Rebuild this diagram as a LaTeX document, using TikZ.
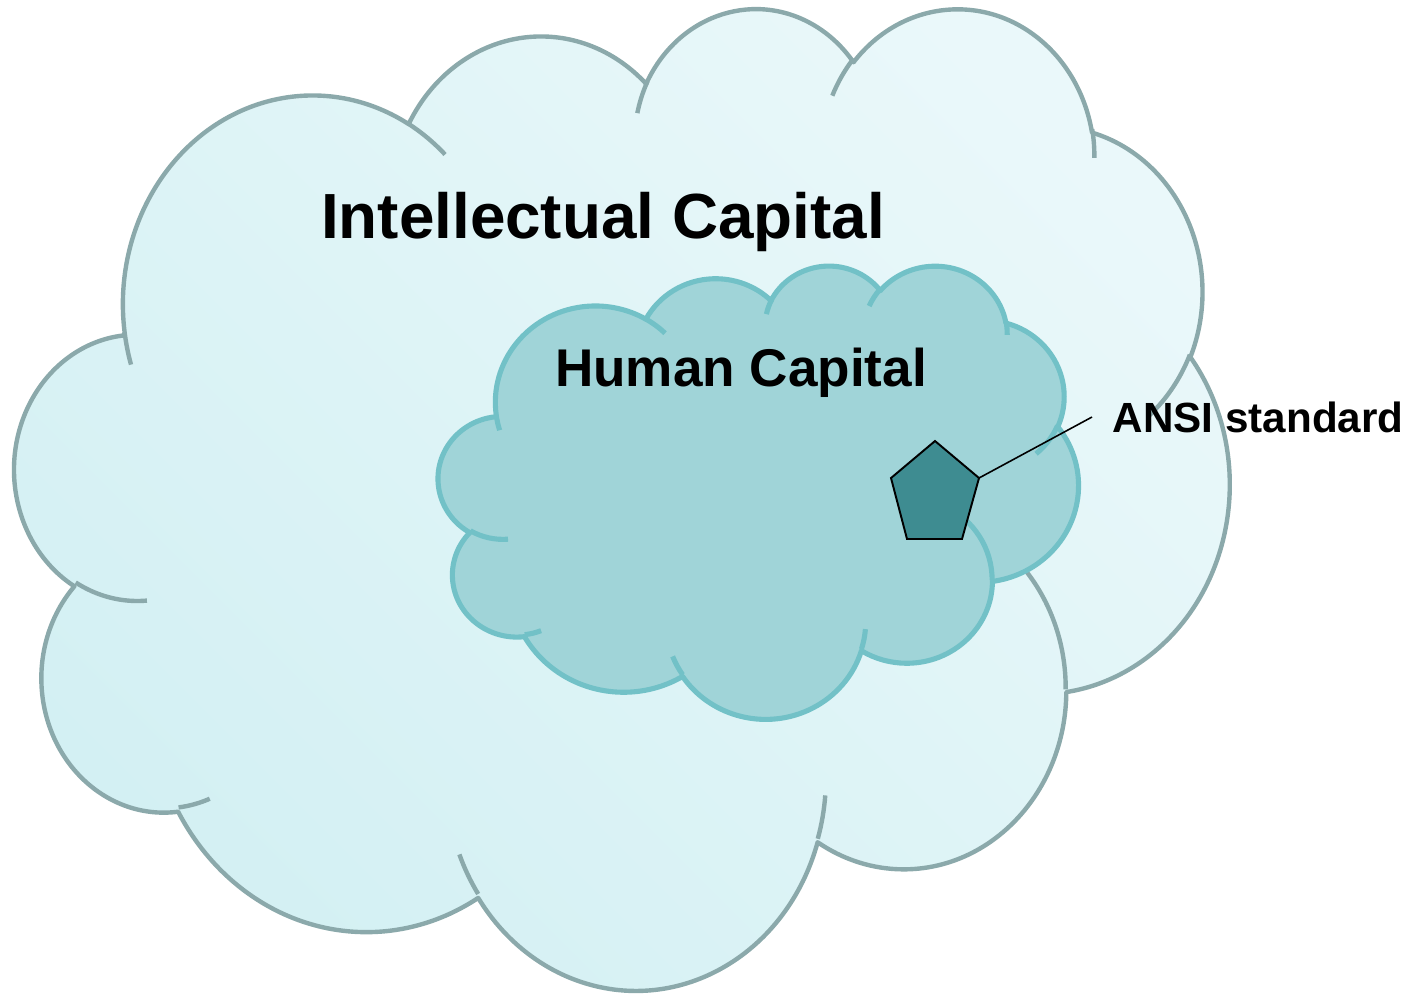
\documentclass[tikz,border=0pt]{standalone}
\usepackage{fontspec}
\setmainfont{Liberation Sans}
\usepackage{xcolor}
\usepackage{tikz}

\definecolor{icline}{HTML}{8BA9AB}
\definecolor{iclight}{HTML}{EAF8FA}
\definecolor{icdark}{HTML}{D3F0F3}
\definecolor{hcline}{HTML}{72C1C7}
\definecolor{hcfill}{HTML}{A0D4D8}
\definecolor{ansifill}{HTML}{3E8C91}

% one lobe of a cloud: x radius, y radius, start angle, sweep (seen from the centre)
\newcommand\cloudlobe[4]{%
  arc[start angle={atan2(#1*sin(#3),#2*cos(#3))},
      delta angle={mod(atan2(#1*sin(#3+#4),#2*cos(#3+#4))-atan2(#1*sin(#3),#2*cos(#3))+720,360)},
      x radius=#1, y radius=#2]}

% cloud outline in a 432 x 432 box
\newcommand\cloudrim{(39.00,143.70)
  \cloudlobe{67.53}{91.90}{-190.48748}{123.78053}
  \cloudlobe{53.33}{72.67}{-144.10238}{89.94523}
  \cloudlobe{43.65}{59.45}{-145.80792}{99.72302}
  \cloudlobe{48.57}{65.95}{-130.98607}{117.24173}
  \cloudlobe{53.33}{72.73}{-78.70888}{109.02692}
  \cloudlobe{67.75}{92.20}{-46.26725}{130.26900}
  \cloudlobe{57.85}{78.67}{0.62502}{114.03333}
  \cloudlobe{67.52}{92.15}{22.45160}{115.17255}
  \cloudlobe{77.20}{105.43}{66.24263}{75.71102}
  \cloudlobe{43.60}{59.18}{-274.94208}{146.73557}
  \cloudlobe{43.45}{59.45}{-246.82850}{152.51885}
  -- cycle}

% the short folds where two lobes meet
\newcommand\cloudfolds{%
  (46.93,261.77) \cloudlobe{43.45}{59.45}{86.74200}{26.42950}
  (69.28,348.99) \cloudlobe{43.60}{59.18}{73.61047}{11.44747}
  (164.78,390.90) \cloudlobe{67.52}{92.15}{137.62415}{14.08110}
  (288.27,347.51) \cloudlobe{67.52}{92.15}{6.45327}{15.99835}
  (341.29,229.54) \cloudlobe{57.85}{78.67}{-70.29235}{70.91737}
  (417.98,153.54) \cloudlobe{53.33}{72.73}{30.31803}{27.75150}
  (383.24,54.26) \cloudlobe{48.57}{65.95}{-13.74433}{14.85890}
  (290.78,39.52) \cloudlobe{48.57}{65.95}{-149.18145}{18.19537}
  (221.41,47.20) \cloudlobe{43.65}{59.45}{-163.49427}{17.68635}
  (140.00,51.92) \cloudlobe{67.53}{91.90}{-66.70695}{12.31935}
  (41.27,157.89) \cloudlobe{67.53}{91.90}{157.65435}{11.85817}}

\begin{document}
\begin{tikzpicture}[x=0.01cm, y=-0.01cm,
    bigcloud/.style={draw=icline, line width=1.25pt, line join=round,
                     top color=iclight, bottom color=icdark, shading angle=-45},
    bigfold/.style={draw=icline, line width=1.25pt},
    smallcloud/.style={draw=hcline, fill=hcfill, line width=1.45pt, line join=round},
    smallfold/.style={draw=hcline, line width=1.45pt},
    heading/.style={font=\bfseries\fontsize{18.15pt}{21pt}\selectfont, inner sep=0pt},
    subheading/.style={font=\bfseries\fontsize{15.1pt}{18pt}\selectfont, inner sep=0pt},
    tag/.style={font=\bfseries\fontsize{12pt}{14pt}\selectfont, inner xsep=0.2cm, inner ysep=0pt},
    marker/.style={draw=black, fill=ansifill, line width=0.55pt, line join=miter},
    pointer/.style={draw=black, line width=0.45pt}
  ]
  \useasboundingbox (0,0) rectangle (1416,993);

  % Clouds
  \begin{scope}[shift={(15,5.9)}, x=0.02809cm, y=-0.0227cm]
    \path[bigcloud] \cloudrim;
    \draw[bigfold] \cloudfolds;
  \end{scope}
  \begin{scope}[shift={(438.5,264.6)}, x=0.014795cm, y=-0.010482cm]
    \path[smallcloud] \cloudrim;
    \draw[smallfold] \cloudfolds;
  \end{scope}

  % Labels
  \node[heading, anchor=base] (ic) at (603,238) {Intellectual Capital};
  \node[subheading, anchor=base] (hc) at (741,386) {Human Capital};
  \node[tag, anchor=west] (ansi) at (1092,417) {ANSI standard};

  % Pentagon and its pointer
  \draw[marker] (935,441) -- (979,478) coordinate (tip) -- (962,539) -- (907,539) -- (891,478) -- cycle;
  \draw[pointer] (tip) -- (ansi.west);
\end{tikzpicture}
\end{document}
